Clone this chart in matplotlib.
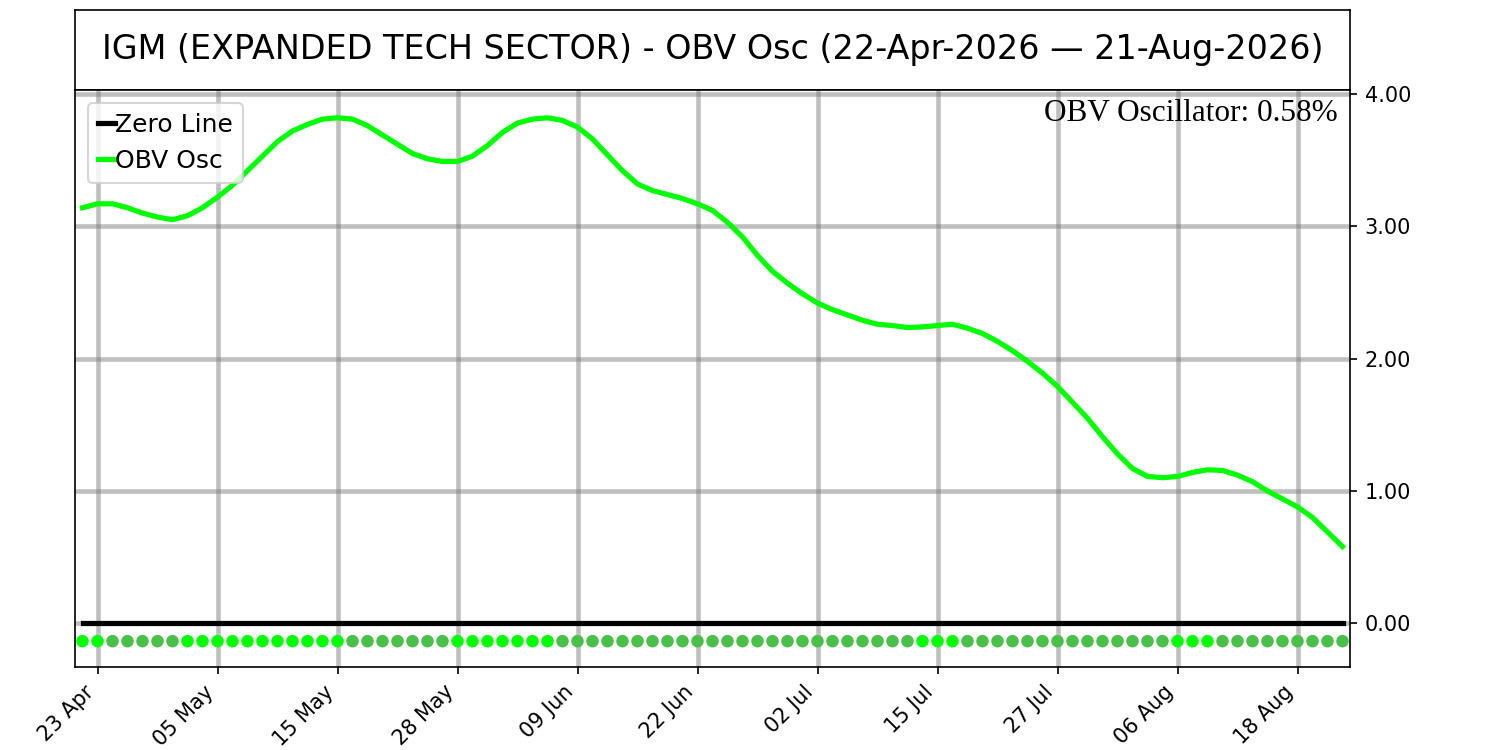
import numpy as np
import matplotlib
matplotlib.use("Agg")
import matplotlib.pyplot as plt
import pandas as pd

# trading days 22 Apr 2026 .. 21 Aug 2026
dates = pd.bdate_range("2026-04-22", "2026-08-21")
dates = dates[~dates.isin(pd.to_datetime(["2026-05-25", "2026-06-19", "2026-07-03"]))]

# OBV oscillator values (%)
obv_osc = [
    3.14, 3.17, 3.17, 3.14, 3.10, 3.07, 3.05, 3.08, 3.14, 3.22,
    3.31, 3.42, 3.53, 3.64, 3.72, 3.77, 3.81, 3.82, 3.81, 3.76,
    3.69, 3.62, 3.55, 3.51, 3.49, 3.49, 3.53, 3.61, 3.71, 3.78,
    3.81, 3.82, 3.80, 3.75, 3.66, 3.54, 3.42, 3.32, 3.27, 3.24,
    3.21, 3.17, 3.12, 3.03, 2.92, 2.78, 2.66, 2.57, 2.49, 2.42,
    2.37, 2.33, 2.29, 2.26, 2.25, 2.235, 2.24, 2.25, 2.26, 2.23,
    2.19, 2.13, 2.06, 1.98, 1.89, 1.79, 1.67, 1.55, 1.41, 1.28,
    1.17, 1.11, 1.10, 1.11, 1.14, 1.16, 1.155, 1.12, 1.07, 1.00,
    0.94, 0.88, 0.80, 0.69, 0.58,
]

# direction markers along the bottom: 1 = rising (bright), 0 = falling
rising = [
    1, 1, 0, 0, 0, 0, 0, 1, 1, 1, 1, 1, 1, 1, 1, 1, 1, 1, 0, 0,
    0, 0, 0, 0, 0, 1, 1, 1, 1, 1, 1, 1, 0, 0, 0, 0, 0, 0, 0, 0,
    0, 0, 0, 0, 0, 0, 0, 0, 0, 0, 0, 0, 0, 0, 0, 0, 1, 1, 1, 0,
    0, 0, 0, 0, 0, 0, 0, 0, 0, 0, 0, 0, 0, 1, 1, 1, 0, 0, 0, 0,
    0, 0, 0, 0, 0,
]

x = np.arange(len(obv_osc))
tick_idx = list(range(1, len(x), 8))
tick_labels = [dates[i].strftime("%d %b") for i in tick_idx]

fig = plt.figure(figsize=(10, 5), dpi=150)

# title box
tax = fig.add_axes([0.05, 0.88, 0.85, 0.1067])
tax.set_xticks([])
tax.set_yticks([])
tax.text(0.5, 0.5, "IGM (EXPANDED TECH SECTOR) - OBV Osc (22-Apr-2026 \u2014 21-Aug-2026)",
         ha="center", va="center", fontsize=16, transform=tax.transAxes)

ax = fig.add_axes([0.05, 0.1107, 0.85, 0.7693])
ax.plot(x, np.zeros(len(x)), color="black", lw=2.5, label="Zero Line")
ax.plot(x, obv_osc, color="#00ff00", lw=2.5, label="OBV Osc")
dot_colors = ["#00ff00" if r else "#4abf4a" for r in rising]
ax.scatter(x, np.full(len(x), -0.135), c=dot_colors, s=25, zorder=3)

ax.set_xlim(-0.5, len(x) - 0.5)
ax.set_ylim(-0.33, 4.03)
ax.set_xticks(tick_idx)
ax.set_xticklabels(tick_labels, rotation=45, ha="right")
ax.set_yticks([0, 1, 2, 3, 4])
ax.set_yticklabels(["%.2f" % v for v in [0, 1, 2, 3, 4]])
ax.yaxis.tick_right()
ax.grid(True, color="gray", alpha=0.5, lw=2.2)
ax.legend(loc="upper left", fontsize=12, handlelength=0.7, handletextpad=0.0)
ax.text(0.99, 0.985, "OBV Oscillator: %.2f%%" % obv_osc[-1], transform=ax.transAxes,
        ha="right", va="top", fontsize=15, family="Liberation Serif")

fig.savefig("out.png", dpi=150)
